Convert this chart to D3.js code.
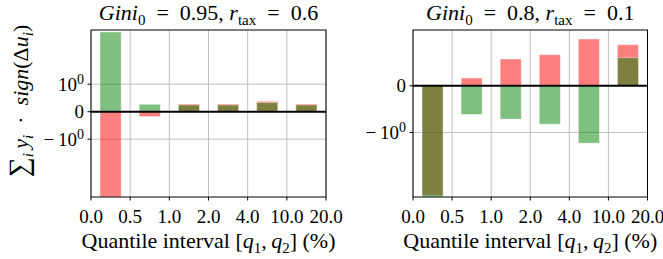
<!DOCTYPE html>
<html>
<head>
<meta charset="utf-8">
<script src="https://cdn.jsdelivr.net/npm/d3@7"></script>
<style>
  body { margin: 0; background: #fff; }
</style>
</head>
<body>
<div id="chart"></div>
<script>
var svgWidth = 663;
var svgHeight = 259;

// tick labels for the quantile boundaries
var xTickLabels = ["0.0", "0.5", "1.0", "2.0", "4.0", "10.0", "20.0"];

// left panel: Gini0 = 0.95, r_tax = 0.6
var leftRed   = [-7.6, -0.134, 0.214, 0.214, 0.30, 0.214];
var leftGreen = [6.46, 0.205, 0.184, 0.184, 0.255, 0.184];
var leftDomain = [-7.6, 6.85];
var leftTicks = [1, 0, -1];

// right panel: Gini0 = 0.8, r_tax = 0.1
var rightRed   = [-4.09, 0.121, 0.488, 0.586, 1.003, 0.84];
var rightGreen = [-4.22, -0.531, -0.641, -0.768, -1.346, 0.517];
var rightDomain = [-4.22, 1.29];
var rightTicks = [0, -1];

var svg = d3.select("#chart")
  .append("svg")
  .attr("width", svgWidth)
  .attr("height", svgHeight)
  .attr("font-family", "'Liberation Serif', 'Times New Roman', serif");

function sub(t, txt, italic) {
  t.append("tspan").attr("dy", 5).attr("font-size", 15)
    .attr("font-style", italic ? "italic" : null).text(txt);
}

function drawPanel(opts) {
  var x = d3.scaleLinear().domain([0, 6]).range([opts.left, opts.right]);
  var y = d3.scaleSymlog().constant(1).domain(opts.domain).range([opts.bottom, opts.top]);
  var g = svg.append("g");

  // grid
  g.selectAll(".vgrid").data(d3.range(7)).enter().append("line")
    .attr("x1", d => x(d)).attr("x2", d => x(d))
    .attr("y1", opts.top).attr("y2", opts.bottom)
    .attr("stroke", "#b0b0b0").attr("stroke-width", 0.8);
  g.selectAll(".hgrid").data(opts.ticks.filter(d => d !== 0)).enter().append("line")
    .attr("x1", opts.left).attr("x2", opts.right)
    .attr("y1", d => y(d)).attr("y2", d => y(d))
    .attr("stroke", "#b0b0b0").attr("stroke-width", 0.8);

  var bw = 0.54;
  // red first, green drawn over it
  [[opts.red, "#ff0000"], [opts.green, "#008000"]].forEach(function(s) {
    g.selectAll(null).data(s[0]).enter().append("rect")
      .attr("x", (d, i) => x(i + 0.5 - bw / 2))
      .attr("width", x(bw) - x(0))
      .attr("y", d => Math.min(y(d), y(0)))
      .attr("height", d => Math.abs(y(d) - y(0)))
      .attr("fill", s[1]).attr("fill-opacity", 0.5)
      .attr("stroke", "#fff").attr("stroke-opacity", 0.5).attr("stroke-width", 0.8);
  });

  // zero line
  g.append("line")
    .attr("x1", opts.left).attr("x2", opts.right)
    .attr("y1", y(0)).attr("y2", y(0))
    .attr("stroke", "#000").attr("stroke-width", 2);

  // frame
  g.append("rect")
    .attr("x", opts.left).attr("y", opts.top)
    .attr("width", opts.right - opts.left).attr("height", opts.bottom - opts.top)
    .attr("fill", "none").attr("stroke", "#000").attr("stroke-width", 1);

  // x ticks
  g.selectAll(".xt").data(xTickLabels).enter().append("line")
    .attr("x1", (d, i) => x(i)).attr("x2", (d, i) => x(i))
    .attr("y1", opts.bottom).attr("y2", opts.bottom + 3.5)
    .attr("stroke", "#000").attr("stroke-width", 1);
  g.selectAll(".xl").data(xTickLabels).enter().append("text")
    .attr("x", (d, i) => x(i)).attr("y", 223)
    .attr("text-anchor", "middle").attr("font-size", 19)
    .text(d => d);

  // y ticks
  g.selectAll(".yt").data(opts.ticks).enter().append("line")
    .attr("x1", opts.left - 3.5).attr("x2", opts.left)
    .attr("y1", d => y(d)).attr("y2", d => y(d))
    .attr("stroke", "#000").attr("stroke-width", 1);
  opts.ticks.forEach(function(v) {
    var t = g.append("text")
      .attr("x", opts.left - 7).attr("y", y(v) + 6.5)
      .attr("text-anchor", "end").attr("font-size", 19);
    if (v === 0) { t.text("0"); return; }
    t.append("tspan").text(v < 0 ? "\u2212\u200910" : "10");
    t.append("tspan").attr("dy", -7).attr("font-size", 14).text("0");
  });

  // title
  var tt = g.append("text")
    .attr("x", (opts.left + opts.right) / 2).attr("y", 19.5)
    .attr("text-anchor", "middle").attr("font-size", 22);
  tt.append("tspan").attr("font-style", "italic").text("Gini");
  sub(tt, "0");
  tt.append("tspan").attr("dy", -5).text("\u2002=\u2002" + opts.gini + ", ");
  tt.append("tspan").attr("font-style", "italic").text("r");
  sub(tt, "tax");
  tt.append("tspan").attr("dy", -5).text("\u2002=\u2002" + opts.rtax);

  // x label
  var xl = g.append("text")
    .attr("x", (opts.left + opts.right) / 2).attr("y", 248)
    .attr("text-anchor", "middle").attr("font-size", 22);
  xl.append("tspan").text("Quantile interval [");
  xl.append("tspan").attr("font-style", "italic").text("q");
  sub(xl, "1");
  xl.append("tspan").attr("dy", -5).text(",\u2009");
  xl.append("tspan").attr("font-style", "italic").text("q");
  sub(xl, "2");
  xl.append("tspan").attr("dy", -5).text("] (%)");
}

drawPanel({left: 91, right: 326, top: 30, bottom: 197, domain: leftDomain, ticks: leftTicks,
  red: leftRed, green: leftGreen, gini: "0.95", rtax: "0.6"});
drawPanel({left: 413, right: 647.5, top: 30, bottom: 197, domain: rightDomain, ticks: rightTicks,
  red: rightRed, green: rightGreen, gini: "0.8", rtax: "0.1"});

// y label
var yl = svg.append("text")
  .attr("transform", "translate(28, 101) rotate(-90)")
  .attr("text-anchor", "middle").attr("font-size", 22);
yl.append("tspan").attr("font-size", 28).text("\u2211");
sub(yl, "i", true);
yl.append("tspan").attr("dy", -5).attr("font-style", "italic").text("\u2009y");
sub(yl, "i", true);
yl.append("tspan").attr("dy", -5).text("\u2002\u00b7\u2002");
yl.append("tspan").attr("font-style", "italic").text("sign");
yl.append("tspan").text("(\u0394");
yl.append("tspan").attr("font-style", "italic").text("u");
sub(yl, "i", true);
yl.append("tspan").attr("dy", -5).text(")");
</script>
</body>
</html>
